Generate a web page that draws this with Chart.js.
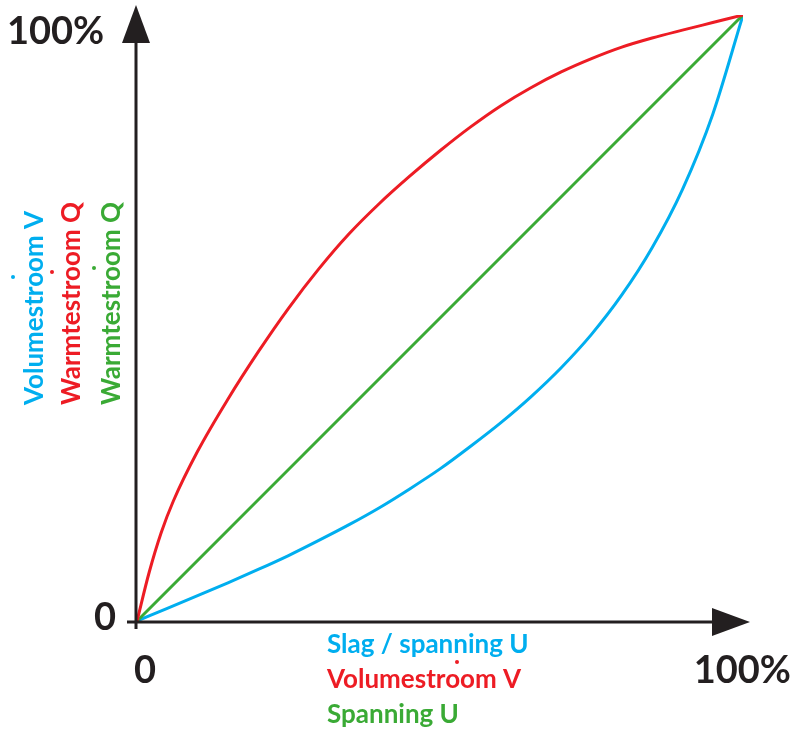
<!DOCTYPE html>
<html>
<head>
<meta charset="utf-8">
<script src="https://cdn.jsdelivr.net/npm/chart.js@4/dist/chart.umd.min.js"></script>
<style>
  body { margin: 0; background: #fff; }
</style>
</head>
<body>
<canvas id="myChart" width="795" height="735"></canvas>
<script>
// x positions (% of U / V)
const redX = [0, 2, 4, 6, 10, 15, 20, 25, 30, 35, 40, 45, 50, 55, 60, 65, 70, 75, 80, 85, 90, 95, 100]
const redValues = [0, 8, 14.6, 19.8, 28, 36.6, 44.4, 51.6, 58.1, 63.9, 68.9, 73.4, 77.6, 81.5, 85, 88, 90.6, 92.8, 94.7, 96.2, 97.5, 98.75, 100]
const greenX = [0, 100]
const greenValues = [0, 100]
const blueX = [0, 5, 10, 15, 20, 25, 30, 35, 40, 45, 50, 55, 60, 65, 70, 75, 80, 85, 90, 95, 100]
const blueValues = [0, 2.1, 4.2, 6.3, 8.5, 10.8, 13.3, 15.9, 18.7, 21.8, 25.1, 28.8, 32.7, 37, 41.8, 47.3, 53.8, 61.6, 71.2, 83.6, 100]

const tickLabels = ['0', '100%']
const xAxisLabels = ['Slag / spanning U', 'Volumestroom V', 'Spanning U']
const yAxisLabels = ['Volumestroom V', 'Warmtestroom Q', 'Warmtestroom Q']

const BLUE = '#00aeef'
const RED = '#ed1c24'
const GREEN = '#3aaa35'
const INK = '#231f20'
const FONT = 'Lato, "Noto Sans", sans-serif'

const toPoints = (xs, ys) => xs.map((x, i) => ({ x: x, y: ys[i] }))

// axes, arrows and all the labels are drawn here
const axesPlugin = {
  id: 'axesPlugin',
  afterDraw(chart) {
    const ctx = chart.ctx
    const xs = chart.scales.x
    const ys = chart.scales.y
    const x0 = xs.getPixelForValue(0)
    const y0 = ys.getPixelForValue(0)

    ctx.save()
    ctx.strokeStyle = INK
    ctx.fillStyle = INK
    ctx.lineWidth = 3
    ctx.beginPath()
    ctx.moveTo(x0 - 1, y0 + 8)
    ctx.lineTo(x0 - 1, 40)
    ctx.moveTo(x0 - 10, y0 + 1)
    ctx.lineTo(715, y0 + 1)
    ctx.stroke()

    // arrow heads
    ctx.beginPath()
    ctx.moveTo(x0 - 1, 5)
    ctx.lineTo(x0 - 15, 43)
    ctx.lineTo(x0 + 13, 43)
    ctx.closePath()
    ctx.fill()
    ctx.beginPath()
    ctx.moveTo(750, y0 + 1)
    ctx.lineTo(712, y0 - 13)
    ctx.lineTo(712, y0 + 15)
    ctx.closePath()
    ctx.fill()

    // tick labels
    ctx.font = 'bold 38px ' + FONT
    ctx.textBaseline = 'alphabetic'
    ctx.textAlign = 'left'
    ctx.fillText(tickLabels[1], 7, 44)
    ctx.textAlign = 'right'
    ctx.fillText(tickLabels[0], 116, 630)
    ctx.fillText(tickLabels[1], 791, 683)
    ctx.textAlign = 'center'
    ctx.fillText(tickLabels[0], x0 + 8, 683)

    // x axis labels
    ctx.font = 'bold 26px ' + FONT
    ctx.textAlign = 'left'
    const colors = [BLUE, RED, GREEN]
    const baselines = [653, 688, 723]
    xAxisLabels.forEach((t, i) => {
      ctx.fillStyle = colors[i]
      ctx.fillText(t, 327, baselines[i])
    })

    // y axis labels, rotated
    const bx = [43, 80, 120]
    yAxisLabels.forEach((t, i) => {
      ctx.save()
      ctx.translate(bx[i], 405)
      ctx.rotate(-Math.PI / 2)
      ctx.fillStyle = colors[i]
      ctx.fillText(t, 0, 0)
      ctx.restore()
    })

    // the little dots (V-dot, Q-dot)
    const dots = [[13, 277, BLUE], [52, 272, RED], [94, 268, GREEN], [457, 662, RED]]
    dots.forEach((d) => {
      ctx.fillStyle = d[2]
      ctx.beginPath()
      ctx.arc(d[0], d[1], 2, 0, Math.PI * 2)
      ctx.fill()
    })
    ctx.restore()
  }
}

const data = {
  datasets: [
    { label: 'Volumestroom', data: toPoints(redX, redValues), borderColor: RED, borderWidth: 3, cubicInterpolationMode: 'monotone' },
    { label: 'Warmtestroom', data: toPoints(greenX, greenValues), borderColor: GREEN, borderWidth: 3 },
    { label: 'Slag', data: toPoints(blueX, blueValues), borderColor: BLUE, borderWidth: 3, cubicInterpolationMode: 'monotone' }
  ]
}

const config = {
  type: 'line',
  data: data,
  options: {
    responsive: false,
    animation: false,
    layout: { padding: { left: 137, right: 52, top: 15, bottom: 114 } },
    elements: { point: { radius: 0 } },
    scales: {
      x: { type: 'linear', min: 0, max: 100, display: false },
      y: { type: 'linear', min: 0, max: 100, display: false }
    },
    plugins: {
      legend: { display: false },
      tooltip: { enabled: false }
    }
  },
  plugins: [axesPlugin]
}

var myChart = new Chart(document.getElementById('myChart'), config)
</script>
</body>
</html>
